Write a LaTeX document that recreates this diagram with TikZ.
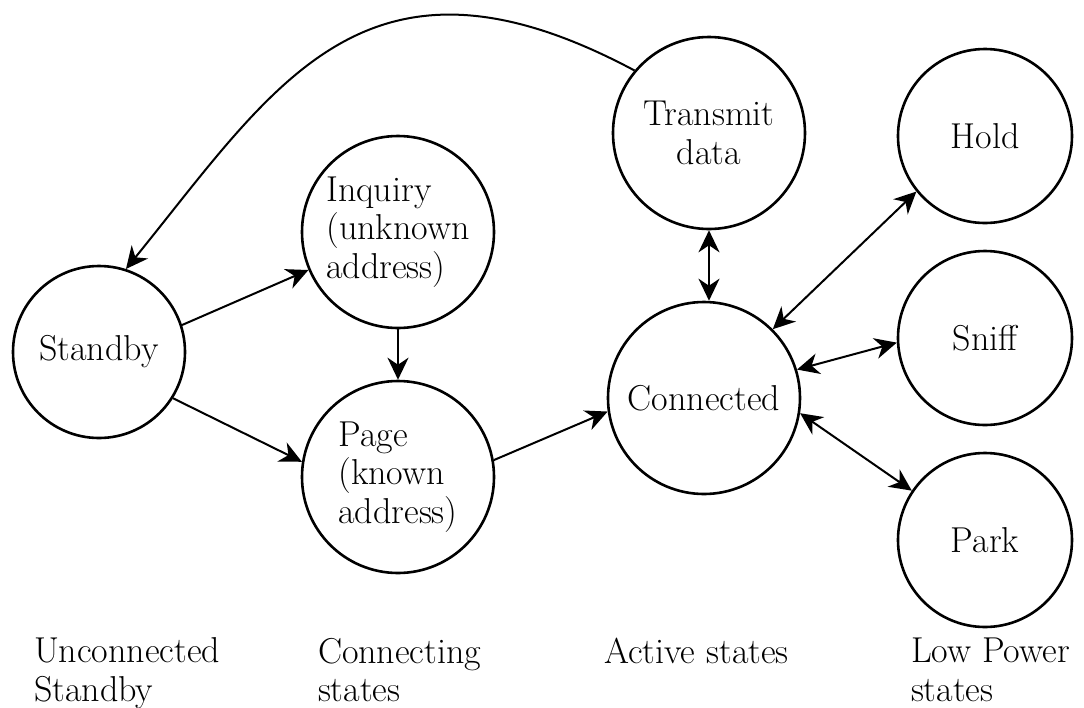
\documentclass[tikz,border=0pt]{standalone}
\usetikzlibrary{arrows.meta}
\newcommand{\lblfont}{\fontsize{18}{19.3}\selectfont}

\begin{document}
\begin{tikzpicture}[x=0.5pt,y=-0.5pt,line width=1pt,font=\lblfont,
    bstate/.style={draw,circle,line width=1.3pt,inner sep=0pt,minimum size=#1,align=left},
    bstate/.default=96pt,
    link/.style={-{Stealth[length=11pt,width=10.5pt,inset=3.5pt]}},
    dlink/.style={{Stealth[length=11pt,width=10.5pt,inset=3.5pt]}-{Stealth[length=11pt,width=10.5pt,inset=3.5pt]}},
    grp/.style={anchor=north west,align=left,inner sep=0pt}]
  \useasboundingbox (0,0) rectangle (1084,708);

  %unconnected standby
  \node[bstate=86pt] (sb) at (99,352) {Standby};

  %connecting states
  \node[bstate] (iq) at (398,232) {Inquiry\\(unknown\\address)};
  \node[bstate] (pg) at (398,477) {Page\\(known\\address)};

  %active states
  \node[bstate,align=center] (tx) at (709,133) {Transmit\\data};
  \node[bstate] (cn) at (704,398) {Connected};

  %low power states
  \node[bstate=87pt] (hd) at (985,136) {Hold};
  \node[bstate=87pt] (sf) at (985,338) {Sniff};
  \node[bstate=87pt] (pk) at (985,540) {Park};

  %transitions
  \draw[link] (sb.18) -- (iq.203);
  \draw[link] (sb.-32) -- (pg.171);
  \draw[link] (iq.south) -- (pg.north);
  \draw[link] (pg.10) -- (cn.188);
  \draw[dlink] (tx.south) -- (tx.south |- cn.north);
  \draw[dlink] (cn.45) -- (hd.219);
  \draw[dlink] (cn.17) -- (sf.183);
  \draw[dlink] (cn.-9) -- (pk.146);

  %back to standby
  \draw[link] (tx.140) .. controls +(-268,-143) and +(150,-185) .. (sb.72);

  %column captions
  \node[grp] (gu) at (33,637) {Unconnected\\Standby};
  \node[grp] (gc) at (317,637) {Connecting\\states};
  \node[grp] (ga) at (603,637) {Active states};
  \node[grp] (gl) at (910,637) {Low Power\\states};
\end{tikzpicture}
\end{document}
